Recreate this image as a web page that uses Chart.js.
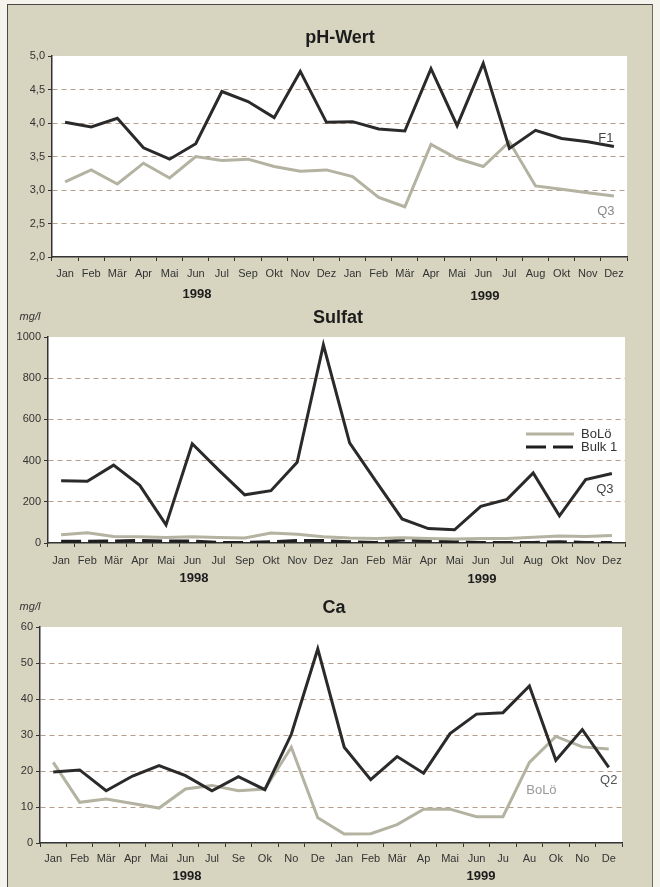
<!DOCTYPE html>
<html>
<head>
<meta charset="utf-8">
<script src="https://cdn.jsdelivr.net/npm/chart.js@4.4.1/dist/chart.umd.min.js"></script>
<style>
  html, body { margin: 0; padding: 0; }
  body { width: 660px; height: 887px; position: relative; overflow: hidden; background: #f4f3ec;
         font-family: 'Liberation Sans', Arial, sans-serif; }
  #panel { position: absolute; left: 7px; top: 4px; width: 644px; height: 900px; background: #d7d5c0;
           border-left: 1.5px solid #4a4a44; border-top: 1.5px solid #4a4a44; border-right: 1.5px solid #6a6a60; }
  .box { position: absolute; left: 0; width: 660px; }
  canvas { display: block; }
  .t { position: absolute; color: #1c1c1c; white-space: nowrap; transform: translate(-50%, -50%); }
  .title { font-weight: bold; font-size: 18px; }
  .year { font-weight: bold; font-size: 13px; }
  .unit { font-style: italic; font-size: 11px; color: #333; }
</style>
</head>
<body>
<div id="panel"></div>

<div class="box" style="top:0;height:305px"><canvas id="cPH" width="660" height="305"></canvas></div>
<div class="box" style="top:305px;height:285px"><canvas id="cSO4" width="660" height="285"></canvas></div>
<div class="box" style="top:590px;height:297px"><canvas id="cCa" width="660" height="297"></canvas></div>

<div class="t title" style="left:340px;top:37px">pH-Wert</div>
<div class="t year" style="left:197px;top:293px">1998</div>
<div class="t year" style="left:485px;top:295px">1999</div>

<div class="t unit" style="left:30px;top:316px">mg/l</div>
<div class="t title" style="left:338px;top:317px">Sulfat</div>
<div class="t year" style="left:194px;top:577px">1998</div>
<div class="t year" style="left:482px;top:578px">1999</div>

<div class="t unit" style="left:30px;top:606px">mg/l</div>
<div class="t title" style="left:334px;top:607px">Ca</div>
<div class="t year" style="left:187px;top:875px">1998</div>
<div class="t year" style="left:481px;top:875px">1999</div>

<script>
// Monthly sampling dates, Jan 1998 – Dez 1999
const monthsPH = ['Jan','Feb','Mär','Apr','Mai','Jun','Jul','Sep','Okt','Nov','Dez',
                  'Jan','Feb','Mär','Apr','Mai','Jun','Jul','Aug','Okt','Nov','Dez'];
const monthsSulfat = ['Jan','Feb','Mär','Apr','Mai','Jun','Jul','Sep','Okt','Nov','Dez',
                      'Jan','Feb','Mär','Apr','Mai','Jun','Jul','Aug','Okt','Nov','Dez'];
const monthsCa = ['Jan','Feb','Mär','Apr','Mai','Jun','Jul','Se','Ok','No','De',
                  'Jan','Feb','Mär','Ap','Mai','Jun','Ju','Au','Ok','No','De'];

// pH-Wert
const phF1 = [4.01,3.94,4.07,3.63,3.46,3.69,4.47,4.32,4.08,4.77,4.01,
              4.02,3.91,3.88,4.81,3.96,4.89,3.62,3.89,3.77,3.72,3.65];
const phQ3 = [3.12,3.30,3.09,3.40,3.18,3.50,3.44,3.46,3.35,3.28,3.30,
              3.20,2.89,2.75,3.68,3.47,3.35,3.72,3.06,3.01,2.96,2.91];

// Sulfat (mg/l)
const sulfatQ3 = [302,300,378,280,88,482,355,234,254,392,962,
                  486,300,117,70,64,178,212,340,132,308,337];
const sulfatBoLo = [40,50,32,30,27,30,27,24,48,42,30,
                    24,22,26,22,20,22,22,28,34,32,36];
const sulfatBulk1 = [8,8,10,12,10,10,3,3,6,12,12,
                     6,3,15,10,6,3,3,3,6,3,3];

// Ca (mg/l)
const caQ2 = [19.7,20.3,14.5,18.6,21.5,18.7,14.5,18.4,14.8,30.2,53.9,
              26.6,17.6,24.0,19.4,30.4,35.8,36.2,43.6,23.0,31.5,21.0];
const caBoLo = [22.4,11.3,12.2,11.0,9.7,15.0,16.0,14.5,15.0,26.6,7.0,
                2.5,2.6,5.1,9.4,9.4,7.3,7.3,22.4,29.6,26.7,26.1];

// Axis tick settings
const phTicks = { min: 2, max: 5, step: 0.5 };
const sulfatTicks = { min: 0, max: 1000, step: 200 };
const caTicks = { min: 0, max: 60, step: 10 };

const FONT = "'Liberation Sans', Arial, sans-serif";
const DARK = '#2a2a2a';
const LIGHT = '#b4b2a0';
const GRID = '#b59d8c';

// white plotting area
const plotBg = {
  id: 'plotBg',
  beforeDraw(chart) {
    const { ctx, chartArea: a } = chart;
    ctx.save();
    ctx.fillStyle = '#ffffff';
    ctx.fillRect(a.left, a.top, a.right - a.left, a.bottom - a.top);
    ctx.restore();
  }
};

// series names written next to a chosen point of their line
const seriesLabels = {
  id: 'seriesLabels',
  afterDatasetsDraw(chart, args, opts) {
    const { ctx } = chart;
    ctx.save();
    ctx.font = '13px ' + FONT;
    ctx.textAlign = 'center';
    ctx.textBaseline = 'middle';
    (opts.items || []).forEach(it => {
      const pt = chart.getDatasetMeta(it.ds).data[it.index];
      ctx.fillStyle = it.color;
      ctx.fillText(it.text, pt.x + it.dx, pt.y + it.dy);
    });
    ctx.restore();
  }
};

// small inline legend using the dataset line styles
const lineLegend = {
  id: 'lineLegend',
  afterDatasetsDraw(chart, args, opts) {
    if (!opts.items) return;
    const { ctx } = chart;
    ctx.save();
    opts.items.forEach((it, i) => {
      const ds = chart.data.datasets[it.ds];
      const y = opts.y + i * opts.gap;
      ctx.strokeStyle = ds.borderColor;
      ctx.lineWidth = ds.borderWidth;
      ctx.setLineDash(ds.borderDash || []);
      ctx.beginPath();
      ctx.moveTo(opts.x, y);
      ctx.lineTo(opts.x + opts.len, y);
      ctx.stroke();
      ctx.setLineDash([]);
      ctx.fillStyle = '#333';
      ctx.font = '13px ' + FONT;
      ctx.textAlign = 'left';
      ctx.textBaseline = 'middle';
      ctx.fillText(ds.label, opts.x + opts.len + 7, y);
    });
    ctx.restore();
  }
};

function lineSet(label, data, color, dash) {
  return {
    label, data,
    borderColor: color, backgroundColor: color,
    borderWidth: 3, borderDash: dash || [],
    pointRadius: 0, tension: 0, fill: false
  };
}

function makeChart(id, labels, datasets, t, fmt, geo, labelItems, legendOpts) {
  const gridColor = c => (c.tick && (c.tick.value === t.min || c.tick.value === t.max)) ? 'rgba(0,0,0,0)' : GRID;
  return new Chart(document.getElementById(id), {
    type: 'line',
    data: { labels, datasets },
    plugins: [plotBg, seriesLabels, lineLegend],
    options: {
      responsive: false,
      animation: false,
      devicePixelRatio: 1,
      events: [],
      layout: { padding: geo.pad },
      plugins: {
        legend: { display: false },
        tooltip: { enabled: false },
        title: { display: false },
        seriesLabels: { items: labelItems },
        lineLegend: legendOpts || {}
      },
      scales: {
        x: {
          offset: true,
          ticks: { color: '#333', font: { size: 11, family: FONT }, padding: geo.xPad,
                   maxRotation: 0, minRotation: 0, autoSkip: false },
          grid: { display: true, drawOnChartArea: false, drawTicks: true, tickLength: 4,
                  tickColor: '#333', tickWidth: 1, offset: true },
          border: { display: true, color: '#333', width: 1.5 },
          afterFit: s => { s.height = geo.xh; }
        },
        y: {
          min: t.min, max: t.max,
          ticks: { stepSize: t.step, color: '#333', font: { size: 11, family: FONT }, padding: 3,
                   callback: fmt },
          grid: { color: gridColor, lineWidth: 1, drawTicks: true, tickLength: 4,
                  tickColor: '#333', tickWidth: 1 },
          border: { display: true, color: '#333', width: 1.5, dash: [5, 4] },
          afterFit: s => { s.width = geo.yw; }
        }
      }
    }
  });
}

makeChart('cPH', monthsPH,
  [lineSet('F1', phF1, DARK), lineSet('Q3', phQ3, LIGHT)],
  phTicks, v => v.toFixed(1).replace('.', ','),
  { pad: { left: 12, right: 33, top: 56, bottom: 18 }, yw: 40, xh: 30, xPad: 6 },
  [{ ds: 0, index: 21, text: 'F1', dx: -8, dy: -8, color: '#444' },
   { ds: 1, index: 21, text: 'Q3', dx: -8, dy: 15, color: '#888' }]);

makeChart('cSO4', monthsSulfat,
  [lineSet('Q3', sulfatQ3, DARK), lineSet('BoLö', sulfatBoLo, LIGHT),
   lineSet('Bulk 1', sulfatBulk1, '#1e1e1e', [20, 7])],
  sulfatTicks, v => String(v),
  { pad: { left: 8, right: 35, top: 32, bottom: 17 }, yw: 40, xh: 30, xPad: 7 },
  [{ ds: 0, index: 21, text: 'Q3', dx: -7, dy: 16, color: '#444' }],
  { items: [{ ds: 1 }, { ds: 2 }], x: 526, y: 129, gap: 13, len: 48 });

makeChart('cCa', monthsCa,
  [lineSet('Q2', caQ2, DARK), lineSet('BoLö', caBoLo, LIGHT)],
  caTicks, v => String(v),
  { pad: { left: 6, right: 38, top: 37, bottom: 14 }, yw: 34, xh: 30, xPad: 5 },
  [{ ds: 0, index: 21, text: 'Q2', dx: 0, dy: 13, color: '#555' },
   { ds: 1, index: 18, text: 'BoLö', dx: 12, dy: 28, color: '#999' }]);
</script>
</body>
</html>
